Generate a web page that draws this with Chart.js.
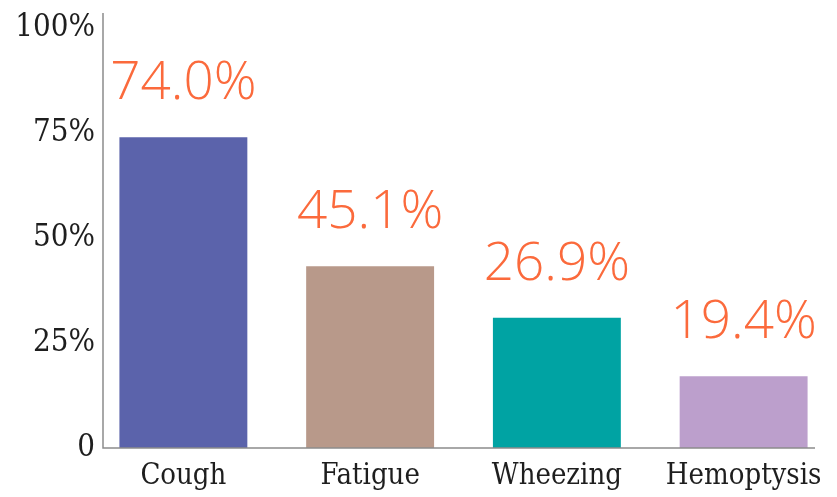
<!doctype html>
<html lang="en">
<head>
    <meta charset="utf-8">
    <title>Symptoms</title>
    <script src="https://cdn.jsdelivr.net/npm/chart.js@4/dist/chart.umd.min.js"></script>
    <style>
        html, body { margin: 0; padding: 0; background: #fff; }
        #wrap { width: 837px; height: 497px; position: relative; }
    </style>
</head>
<body>
<div id="wrap"><canvas id="myChart"></canvas></div>
<script>
    // data
    var symptoms = ["Cough", "Fatigue", "Wheezing", "Hemoptysis"];
    var barValues = [74.0, 43.3, 31.0, 17.1];
    var valueLabels = ["74.0%", "45.1%", "26.9%", "19.4%"];
    var barColors = ["#5b63ab", "#b8998a", "#00a3a3", "#bc9fcc"];
    var yTicks = [0, 25, 50, 75, 100];

    var serif = "'DejaVu Serif Condensed', 'DejaVu Serif', serif";

    // axis lines, y tick labels and the orange value labels
    var extras = {
        id: 'extras',
        afterDatasetsDraw: function (chart) {
            var ctx = chart.ctx;
            var area = chart.chartArea;
            var y = chart.scales.y;
            var zero = y.getPixelForValue(0);
            var axisX = area.left + 13;

            ctx.save();
            ctx.strokeStyle = "#8c8c8c";
            ctx.lineWidth = 1.5;
            ctx.beginPath();
            ctx.moveTo(axisX, y.getPixelForValue(100) - 15);
            ctx.lineTo(axisX, zero);
            ctx.lineTo(area.right - 22, zero);
            ctx.stroke();

            // y labels drawn here so they can sit over the plot edge
            ctx.fillStyle = "#1e1e1e";
            ctx.font = "31px " + serif;
            ctx.textAlign = "right";
            ctx.textBaseline = "middle";
            yTicks.forEach(function (v) {
                ctx.fillText(v === 0 ? "0" : v + "%", axisX - 8, y.getPixelForValue(v));
            });

            ctx.fillStyle = "#fb6a3c";
            ctx.font = "300 53px 'Open Sans', 'Lato', sans-serif";
            ctx.textAlign = "center";
            ctx.textBaseline = "alphabetic";
            chart.getDatasetMeta(0).data.forEach(function (bar, i) {
                ctx.fillText(valueLabels[i], bar.x, bar.y - 38);
            });
            ctx.restore();
        }
    };

    var ctx = document.getElementById("myChart").getContext('2d');

    var myChart = new Chart(ctx, {
        type: 'bar',
        data: {
            labels: symptoms,
            datasets: [{
                data: barValues,
                backgroundColor: barColors,
                borderWidth: 0,
                barPercentage: 0.685,
                categoryPercentage: 1
            }]
        },
        options: {
            responsive: true,
            maintainAspectRatio: false,
            animation: false,
            layout: { padding: { top: 28, right: 0, left: 0, bottom: 0 } },
            plugins: {
                legend: { display: false },
                tooltip: { enabled: false }
            },
            scales: {
                x: {
                    grid: { display: false, drawTicks: false },
                    border: { display: false },
                    ticks: {
                        color: "#1e1e1e",
                        padding: 11,
                        font: { family: serif, size: 29 }
                    },
                    afterFit: function (scale) { scale.height = 49; }
                },
                y: {
                    min: 0,
                    max: 100,
                    grid: { display: false, drawTicks: false },
                    border: { display: false },
                    ticks: { display: false },
                    afterFit: function (scale) { scale.width = 90; }
                }
            }
        },
        plugins: [extras]
    });
</script>
</body>
</html>
